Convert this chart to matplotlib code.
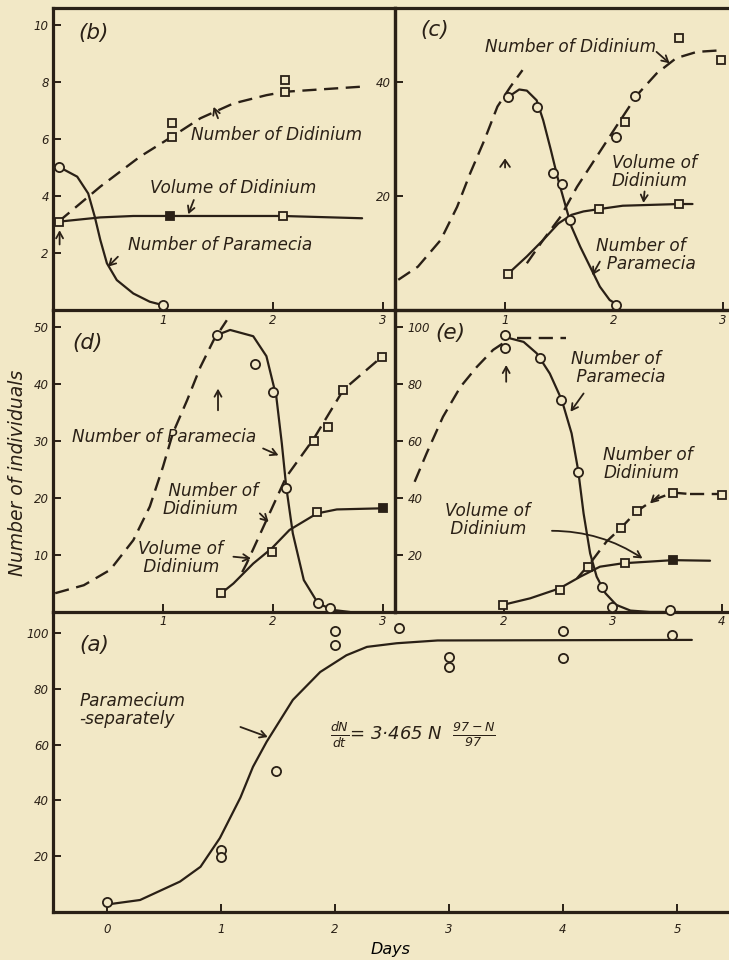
import matplotlib
matplotlib.use("Agg")
import matplotlib.pyplot as plt

BG = "#f2e8c6"
INK = "#2a2016"

plt.rcParams["font.family"] = ["DejaVu Sans"]
plt.rcParams["font.style"] = "italic"
plt.rcParams["mathtext.fontset"] = "dejavusans"
plt.rcParams["mathtext.default"] = "it"
plt.rcParams["text.color"] = INK
plt.rcParams["axes.edgecolor"] = INK
plt.rcParams["xtick.color"] = INK
plt.rcParams["ytick.color"] = INK

# ------------------------------------------------------------------ data
# (a) Paramecium separately
a_curve_day = [0.02, 0.29, 0.64, 0.82, 0.99, 1.17, 1.28, 1.40, 1.63, 1.87, 2.10, 2.28, 2.54, 2.90, 5.13]
a_curve_n = [2.8, 4.3, 10.9, 16.2, 26.5, 41.0, 52.0, 61.0, 76.0, 86.0, 92.0, 95.0, 96.3, 97.3, 97.5]
a_pts_day = [0.0, 1.0, 1.0, 1.48, 2.0, 2.0, 2.56, 3.0, 3.0, 4.0, 4.0, 4.96]
a_pts_n = [3.5, 22.3, 19.8, 50.5, 100.8, 95.7, 101.7, 91.5, 87.9, 100.7, 90.9, 99.3]
a_xticks = [0, 1, 2, 3, 4, 5]
a_yticks = [20, 40, 60, 80, 100]

# (b)
b_para_day = [0.05, 0.22, 0.32, 0.38, 0.43, 0.49, 0.58, 0.73, 0.88, 1.0]
b_para_n = [5.03, 4.68, 4.09, 3.27, 2.46, 1.64, 1.05, 0.58, 0.29, 0.17]
b_para_pts_day = [0.05, 1.0]
b_para_pts_n = [5.03, 0.17]
b_didn_day = [0.05, 0.43, 0.79, 1.08, 1.34, 1.64, 1.94, 2.11, 2.81]
b_didn_n = [3.1, 4.33, 5.38, 6.08, 6.73, 7.25, 7.54, 7.66, 7.84]
b_didn_pts_day = [1.08, 1.08, 2.11, 2.11]
b_didn_pts_n = [6.55, 6.08, 8.07, 7.66]
b_vol_day = [0.05, 0.43, 0.73, 1.06, 2.09, 2.81]
b_vol_n = [3.1, 3.25, 3.3, 3.3, 3.3, 3.22]
b_vol_pts_day = [0.05, 2.09]
b_vol_pts_n = [3.1, 3.3]
b_vol_fill_day = [1.06]
b_vol_fill_n = [3.3]
b_xticks = [1, 2, 3]
b_yticks = [2, 4, 6, 8, 10]

# (c)
c_para_dash_day = [0.02, 0.2, 0.41, 0.56, 0.68, 0.81, 0.93, 1.05, 1.16]
c_para_dash_n = [5.3, 7.6, 12.3, 18.1, 24.0, 29.8, 35.7, 39.2, 42.1]
c_para_day = [1.03, 1.13, 1.2, 1.29, 1.35, 1.42, 1.48, 1.54, 1.61, 1.69, 1.78, 1.87, 1.96, 2.05]
c_para_n = [37.4, 38.7, 38.5, 36.8, 33.3, 28.1, 23.4, 19.3, 14.6, 11.1, 7.6, 4.1, 1.75, 0.7]
c_para_pts_day = [1.03, 1.29, 1.44, 1.52, 1.60, 2.02]
c_para_pts_n = [37.4, 35.7, 24.0, 22.2, 15.8, 0.9]
c_didn_day = [1.2, 1.35, 1.51, 1.66, 1.84, 2.02, 2.21, 2.39, 2.57, 2.76, 3.0]
c_didn_n = [8.2, 12.3, 16.4, 21.6, 26.9, 32.2, 37.7, 41.5, 44.2, 45.3, 45.6]
c_didn_sq_day = [2.6, 2.98, 2.1]
c_didn_sq_n = [47.7, 43.9, 33.0]
c_didn_ci_day = [2.19, 2.02]
c_didn_ci_n = [37.6, 30.4]
c_vol_day = [1.03, 1.2, 1.35, 1.49, 1.61, 1.72, 1.86, 2.08, 2.6, 2.72]
c_vol_n = [6.4, 9.4, 12.3, 15.2, 16.7, 17.3, 17.7, 18.3, 18.6, 18.6]
c_vol_pts_day = [1.03, 1.86, 2.6]
c_vol_pts_n = [6.4, 17.7, 18.6]
c_xticks = [1, 2, 3]
c_yticks = [20, 40]

# (d)
d_para_dash_day = [0.02, 0.28, 0.52, 0.73, 0.88, 1.0, 1.09, 1.22, 1.34, 1.46, 1.58]
d_para_dash_n = [3.3, 4.7, 7.4, 12.6, 18.5, 25.5, 31.4, 37.2, 43.0, 47.7, 51.2]
d_para_day = [1.49, 1.61, 1.82, 1.94, 2.03, 2.08, 2.12, 2.18, 2.28, 2.41, 2.55, 2.70]
d_para_n = [48.6, 49.5, 48.4, 44.9, 37.8, 29.6, 22.0, 13.8, 5.6, 1.5, 0.35, 0.0]
d_para_pts_day = [1.49, 1.84, 2.0, 2.12, 2.41, 2.52]
d_para_pts_n = [48.6, 43.6, 38.6, 21.7, 1.5, 0.7]
d_didn_day = [1.72, 1.76, 1.94, 2.12, 2.37, 2.64, 2.99]
d_didn_n = [7.0, 8.5, 16.1, 23.7, 30.4, 39.0, 44.8]
d_didn_pts_day = [2.37, 2.50, 2.64, 2.99]
d_didn_pts_n = [30.0, 32.5, 39.0, 44.8]
d_vol_day = [1.53, 1.64, 1.82, 1.99, 2.15, 2.4, 2.58, 3.0]
d_vol_n = [3.3, 5.0, 8.5, 11.2, 14.4, 17.3, 18.0, 18.2]
d_vol_pts_day = [1.53, 1.99, 2.4]
d_vol_pts_n = [3.3, 10.6, 17.6]
d_vol_fill_day = [3.0]
d_vol_fill_n = [18.2]
d_xticks = [1, 2, 3]
d_yticks = [10, 20, 30, 40, 50]

# (e)
e_para_dash_day = [1.18, 1.29, 1.44, 1.6, 1.75, 1.9, 2.01]
e_para_dash_n = [45.7, 55.7, 68.5, 79.0, 86.0, 92.0, 94.8]
e_para_flat_day = [2.12, 2.57]
e_para_flat_n = [96.0, 96.0]
e_para_day = [2.01, 2.06, 2.18, 2.3, 2.42, 2.53, 2.62, 2.68, 2.73, 2.79, 2.85, 2.93, 3.03, 3.16, 3.34, 3.6]
e_para_n = [97.2, 96.0, 94.8, 90.8, 83.7, 74.4, 62.7, 49.8, 34.6, 20.6, 12.4, 6.6, 2.5, 0.5, 0.0, 0.0]
e_para_pts_day = [2.01, 2.01, 2.33, 2.52, 2.68, 2.9, 2.99, 3.52]
e_para_pts_n = [97.2, 92.5, 89.0, 74.4, 49.2, 8.9, 1.9, 0.8]
e_didn_day = [2.67, 2.79, 2.94, 3.07, 3.22, 3.37, 3.55, 3.71]
e_didn_n = [11.8, 17.1, 24.7, 29.4, 35.4, 39.3, 41.9, 41.4]
e_didn_tail_day = [3.71, 4.01]
e_didn_tail_n = [41.4, 41.4]
e_didn_pts_day = [3.07, 3.22, 3.55, 4.0]
e_didn_pts_n = [29.4, 35.4, 41.9, 41.0]
e_vol_day = [1.99, 2.24, 2.51, 2.7, 2.88, 3.09, 3.55, 3.89]
e_vol_n = [2.5, 4.8, 8.3, 12.4, 15.9, 17.1, 18.2, 18.0]
e_vol_pts_day = [1.99, 2.51, 2.77, 3.11]
e_vol_pts_n = [2.5, 7.7, 15.9, 17.1]
e_vol_fill_day = [3.55]
e_vol_fill_n = [18.2]
e_xticks = [2, 3, 4]
e_yticks = [20, 40, 60, 80, 100]

# ------------------------------------------------------------------ figure
W, H = 729, 960
fig = plt.figure(figsize=(7.29, 9.6), dpi=100, facecolor=BG)


def add_ax(x0, y0, x1, y1):
    return fig.add_axes([x0 / W, 1 - y1 / H, (x1 - x0) / W, (y1 - y0) / H])


def style(ax, xlim, ylim, xticks, yticks, spines, ylab_inside=False, xpad=2, ypad=3):
    ax.set_facecolor("none")
    ax.set_xlim(*xlim)
    ax.set_ylim(*ylim)
    for s in ax.spines:
        ax.spines[s].set_visible(s in spines)
        ax.spines[s].set_linewidth(2.3)
        ax.spines[s].set_capstyle("projecting")
    ax.set_xticks(xticks)
    ax.set_xticklabels([str(t) for t in xticks])
    ax.set_yticks(yticks)
    ax.set_yticklabels([str(t) for t in yticks])
    ax.tick_params(axis="both", direction="in", length=6, width=1.4, labelsize=8.5)
    ax.tick_params(axis="x", pad=xpad)
    if ylab_inside:
        ax.tick_params(axis="y", pad=-9)
        for lb in ax.get_yticklabels():
            lb.set_horizontalalignment("left")
    else:
        ax.tick_params(axis="y", pad=ypad)
    for lb in ax.get_xticklabels() + ax.get_yticklabels():
        lb.set_fontstyle("italic")


def solid(ax, x, y):
    ax.plot(x, y, color=INK, lw=1.6, solid_capstyle="round", clip_on=False, zorder=3)


def dashed(ax, x, y):
    ax.plot(x, y, color=INK, lw=1.7, dashes=(6, 3.2), clip_on=False, zorder=3)


def circles(ax, x, y, ms=6.6):
    ax.plot(x, y, "o", ms=ms, mfc=BG, mec=INK, mew=1.3, ls="none", clip_on=False, zorder=4)


def squares(ax, x, y, filled=False):
    ax.plot(x, y, "s", ms=5.6, mfc=INK if filled else BG, mec=INK, mew=1.3, ls="none",
            clip_on=False, zorder=4)


def arrow(ax, x0, y0, x1, y1, rad=0.0, hl=0.45, hw=0.25):
    ax.annotate("", xy=(x1, y1), xytext=(x0, y0),
                arrowprops=dict(arrowstyle=f"->,head_length={hl},head_width={hw}", color=INK, lw=1.3,
                                shrinkA=0, shrinkB=0, connectionstyle=f"arc3,rad={rad}"))


LBL = dict(fontsize=12.2, fontstyle="italic", color=INK, va="center", ha="left", linespacing=1.0)

# --- axes boxes (pixels)
ax_b = add_ax(53, 8, 395, 310)
ax_c = add_ax(395, 8, 729, 310)
ax_d = add_ax(53, 310, 395, 612)
ax_e = add_ax(395, 310, 729, 612)
ax_a = add_ax(53, 612, 729, 912)

# ---------------- (b)
style(ax_b, (0, 3.109), (0, 10.6), b_xticks, b_yticks, ["left", "top", "bottom", "right"], xpad=3)
solid(ax_b, b_para_day, b_para_n)
circles(ax_b, b_para_pts_day, b_para_pts_n)
dashed(ax_b, b_didn_day, b_didn_n)
squares(ax_b, b_didn_pts_day, b_didn_pts_n)
solid(ax_b, b_vol_day, b_vol_n)
squares(ax_b, b_vol_pts_day, b_vol_pts_n)
squares(ax_b, b_vol_fill_day, b_vol_fill_n, filled=True)
ax_b.text(0.23, 9.72, "(b)", fontsize=15.5, fontstyle="italic", va="center", ha="left")
ax_b.text(1.25, 6.14, "Number of Didinium", **LBL)
ax_b.text(0.88, 4.28, "Volume of Didinium", **LBL)
ax_b.text(0.68, 2.28, "Number of Paramecia", **LBL)
arrow(ax_b, 0.06, 2.3, 0.06, 2.8)
arrow(ax_b, 0.59, 1.87, 0.50, 1.52)
arrow(ax_b, 1.28, 3.86, 1.23, 3.36)
arrow(ax_b, 1.50, 6.73, 1.46, 7.13)

# ---------------- (c)
style(ax_c, (-0.01, 3.055), (0, 53.0), c_xticks, c_yticks, ["left", "top", "bottom"], xpad=3)
dashed(ax_c, c_para_dash_day, c_para_dash_n)
solid(ax_c, c_para_day, c_para_n)
circles(ax_c, c_para_pts_day, c_para_pts_n)
dashed(ax_c, c_didn_day, c_didn_n)
squares(ax_c, c_didn_sq_day, c_didn_sq_n)
circles(ax_c, c_didn_ci_day, c_didn_ci_n)
solid(ax_c, c_vol_day, c_vol_n)
squares(ax_c, c_vol_pts_day, c_vol_pts_n)
ax_c.text(0.22, 49.1, "(c)", fontsize=15.5, fontstyle="italic", va="center", ha="left")
ax_c.text(0.82, 46.1, "Number of Didinium", **LBL)
ax_c.text(1.98, 24.2, "Volume of\nDidinium", **LBL)
ax_c.text(1.83, 9.6, "Number of\n  Paramecia", **LBL)
arrow(ax_c, 2.39, 45.3, 2.51, 43.3)
arrow(ax_c, 2.28, 20.8, 2.27, 18.8)
arrow(ax_c, 1.87, 8.5, 1.80, 6.1)
arrow(ax_c, 1.0, 25.0, 1.0, 26.6, hl=0.5, hw=0.35)

# ---------------- (d)
style(ax_d, (0, 3.109), (0, 53.0), d_xticks, d_yticks, ["left", "bottom", "right"], xpad=2)
dashed(ax_d, d_para_dash_day, d_para_dash_n)
solid(ax_d, d_para_day, d_para_n)
circles(ax_d, d_para_pts_day, d_para_pts_n)
dashed(ax_d, d_didn_day, d_didn_n)
squares(ax_d, d_didn_pts_day, d_didn_pts_n)
solid(ax_d, d_vol_day, d_vol_n)
squares(ax_d, d_vol_pts_day, d_vol_pts_n)
squares(ax_d, d_vol_fill_day, d_vol_fill_n, filled=True)
ax_d.text(0.18, 47.2, "(d)", fontsize=15.5, fontstyle="italic", va="center", ha="left")
ax_d.text(0.17, 30.7, "Number of Paramecia", **LBL)
ax_d.text(1.0, 19.6, " Number of\nDidinium", **LBL)
ax_d.text(0.77, 9.5, "Volume of\n Didinium", **LBL)
arrow(ax_d, 1.50, 35.4, 1.50, 39.2)
arrow(ax_d, 1.91, 28.7, 2.05, 27.5)
arrow(ax_d, 1.88, 17.3, 1.96, 15.8)
arrow(ax_d, 1.64, 9.7, 1.80, 9.4)

# ---------------- (e)
style(ax_e, (1.0, 4.064), (0, 106.0), e_xticks, e_yticks, ["left", "bottom", "top"],
      ylab_inside=True, xpad=2)
dashed(ax_e, e_para_dash_day, e_para_dash_n)
dashed(ax_e, e_para_flat_day, e_para_flat_n)
solid(ax_e, e_para_day, e_para_n)
circles(ax_e, e_para_pts_day, e_para_pts_n)
dashed(ax_e, e_didn_day, e_didn_n)
dashed(ax_e, e_didn_tail_day, e_didn_tail_n)
squares(ax_e, e_didn_pts_day, e_didn_pts_n)
solid(ax_e, e_vol_day, e_vol_n)
squares(ax_e, e_vol_pts_day, e_vol_pts_n)
squares(ax_e, e_vol_fill_day, e_vol_fill_n, filled=True)
ax_e.text(1.37, 97.9, "(e)", fontsize=15.5, fontstyle="italic", va="center", ha="left")
ax_e.text(2.61, 85.6, "Number of\n Paramecia", **LBL)
ax_e.text(2.91, 51.9, "Number of\nDidinium", **LBL)
ax_e.text(1.46, 32.3, "Volume of\n Didinium", **LBL)
arrow(ax_e, 2.02, 80.8, 2.02, 86.7)
arrow(ax_e, 2.73, 76.7, 2.61, 70.3)
arrow(ax_e, 3.42, 41.0, 3.34, 38.1)
arrow(ax_e, 2.44, 28.5, 3.27, 18.8, rad=-0.15)

# ---------------- (a)
style(ax_a, (-0.474, 5.456), (0, 107.5), a_xticks, a_yticks, ["left", "bottom"], xpad=8, ypad=3)
solid(ax_a, a_curve_day, a_curve_n)
circles(ax_a, a_pts_day, a_pts_n)
ax_a.text(-0.24, 95.7, "(a)", fontsize=15.5, fontstyle="italic", va="center", ha="left")
ax_a.text(-0.24, 72.4, "Paramecium\n-separately", **LBL)
ax_a.text(1.96, 63.4, r"$\frac{dN}{dt}$= 3·465 N  $\frac{97-N}{97}$", fontsize=13,
          fontstyle="italic", va="center", ha="left")
arrow(ax_a, 1.17, 66.3, 1.41, 62.7)
ax_a.set_xlabel("Days", fontsize=11.5, fontstyle="italic", labelpad=4)

fig.text(18 / W, 1 - 473 / H, "Number of individuals", rotation=90, fontsize=13.5,
         fontstyle="italic", va="center", ha="center", color=INK)

fig.savefig("out.png", dpi=100, facecolor=BG)
